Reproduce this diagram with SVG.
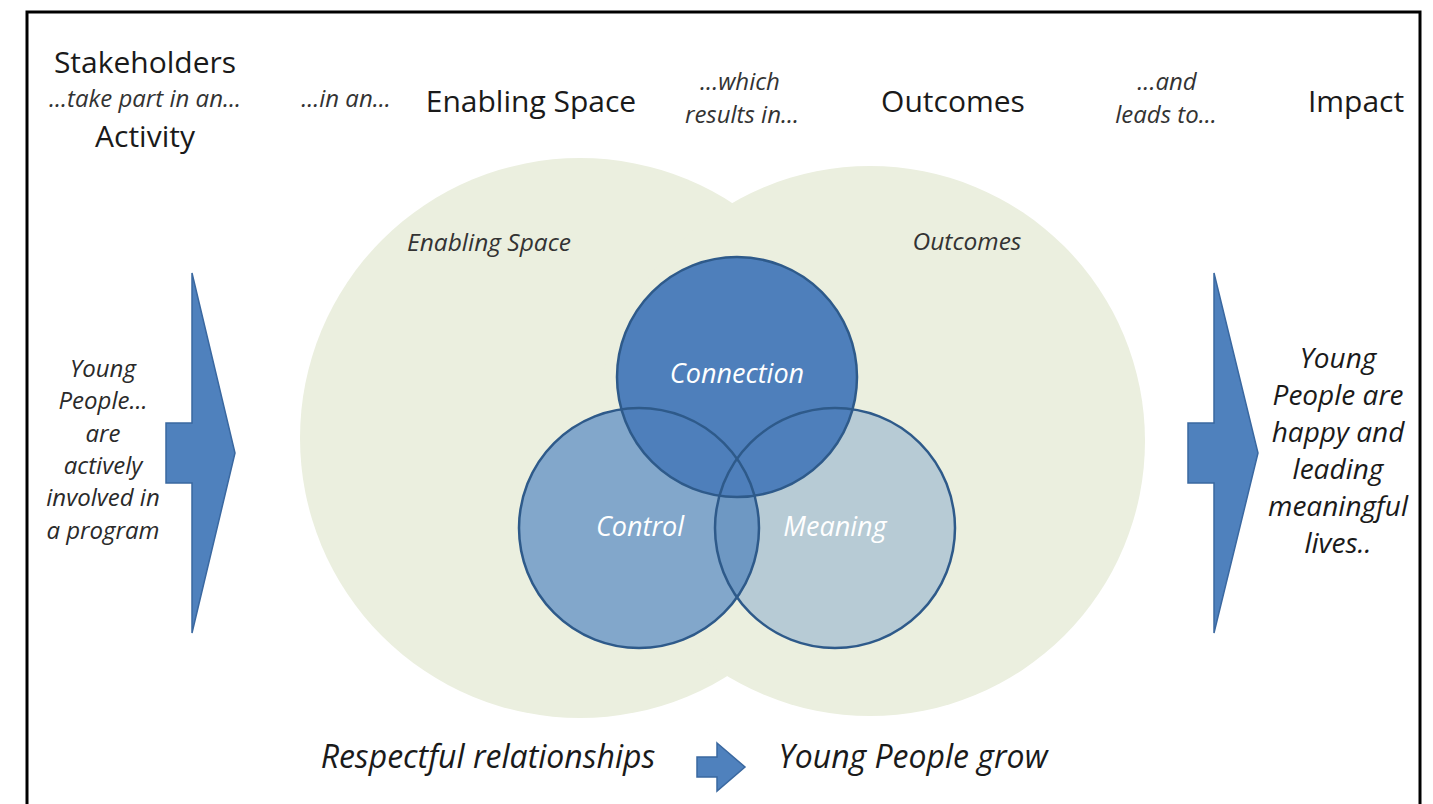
<svg xmlns="http://www.w3.org/2000/svg" width="1433" height="804" viewBox="0 0 1433 804">
<defs>
<style>
.h{font-family:"Open Sans","Noto Sans",sans-serif;font-size:30px;fill:#1a1a1a;text-anchor:middle}
.s{font-family:"Open Sans","Noto Sans",sans-serif;font-size:24px;font-style:italic;fill:#333;text-anchor:middle}
.in{font-family:"Open Sans","Noto Sans",sans-serif;font-size:24.5px;font-style:italic;fill:#333;text-anchor:middle}
.v{font-family:"Open Sans","Noto Sans",sans-serif;font-size:27px;font-style:italic;fill:#fff;text-anchor:middle}
.side{font-family:"Open Sans","Noto Sans",sans-serif;font-size:24px;font-style:italic;fill:#2a2a2a;text-anchor:middle}
.side2{font-family:"Open Sans","Noto Sans",sans-serif;font-size:28px;font-style:italic;fill:#1a1a1a;text-anchor:middle}
.bot{font-family:"Open Sans","Noto Sans",sans-serif;font-size:32px;font-style:italic;fill:#1a1a1a;text-anchor:middle}
.arrow{fill:#4F81BD;stroke:#3A68A0;stroke-width:1.5}
.ring{fill:none;stroke:#2E5A8A;stroke-width:2.5}
</style>
<clipPath id="clipCtrl"><circle cx="639" cy="528" r="120"/></clipPath>
</defs>
<rect x="27" y="12" width="1393" height="820" fill="#fff" stroke="#000" stroke-width="3"/>

<g id="space-circles">
<circle cx="580" cy="438" r="280" fill="#EBEFDF"/>
<circle cx="870" cy="441" r="275" fill="#EBEFDF"/>
</g>

<g id="headers">
<text class="h" x="145" y="73">Stakeholders</text>
<text class="s" x="145" y="107">...take part in an...</text>
<text class="h" x="145" y="147">Activity</text>
<text class="s" x="346" y="107">...in an...</text>
<text class="h" x="531" y="112">Enabling Space</text>
<text class="s" x="740" y="90">...which</text>
<text class="s" x="742" y="123">results in...</text>
<text class="h" x="953" y="112">Outcomes</text>
<text class="s" x="1167" y="90">...and</text>
<text class="s" x="1166" y="123">leads to...</text>
<text class="h" x="1356" y="112">Impact</text>
</g>

<g id="space-labels">
<text class="in" x="489" y="251">Enabling Space</text>
<text class="in" x="967" y="250">Outcomes</text>
</g>

<g id="control">
<circle cx="639" cy="528" r="120" fill="#82A7CB"/>
</g>
<g id="meaning">
<circle cx="835" cy="528" r="120" fill="#B7CBD5"/>
<circle cx="835" cy="528" r="120" fill="#6E98C3" clip-path="url(#clipCtrl)"/>
</g>
<g id="connection">
<circle cx="737" cy="377" r="120" fill="#4E7FBB"/>
</g>
<g id="venn-outlines">
<circle class="ring" cx="639" cy="528" r="120"/>
<circle class="ring" cx="835" cy="528" r="120"/>
<circle class="ring" cx="737" cy="377" r="120"/>
</g>
<g id="venn-labels">
<text class="v" x="737" y="383">Connection</text>
<text class="v" x="640" y="536">Control</text>
<text class="v" x="835" y="536">Meaning</text>
</g>

<g id="connectors">
<polygon class="arrow" points="192,273 235,453 192,633 192,483 166,483 166,423 192,423"/>
<polygon class="arrow" points="1214,273 1258,453 1214,633 1214,483 1188,483 1188,423 1214,423"/>
<polygon class="arrow" points="717,743 745,767 717,791 717,777 697,777 697,757 717,757"/>
</g>

<g id="activity-text">
<text class="side" x="103" y="377">Young</text>
<text class="side" x="103" y="409">People...</text>
<text class="side" x="103" y="442">are</text>
<text class="side" x="103" y="474">actively</text>
<text class="side" x="103" y="506">involved in</text>
<text class="side" x="103" y="539">a program</text>
</g>

<g id="impact-text">
<text class="side2" x="1338" y="368">Young</text>
<text class="side2" x="1338" y="405">People are</text>
<text class="side2" x="1338" y="442">happy and</text>
<text class="side2" x="1338" y="479">leading</text>
<text class="side2" x="1338" y="516">meaningful</text>
<text class="side2" x="1338" y="553">lives..</text>
</g>

<g id="bottom">
<text class="bot" x="488" y="768">Respectful relationships</text>
<text class="bot" x="913" y="768">Young People grow</text>
</g>
</svg>
